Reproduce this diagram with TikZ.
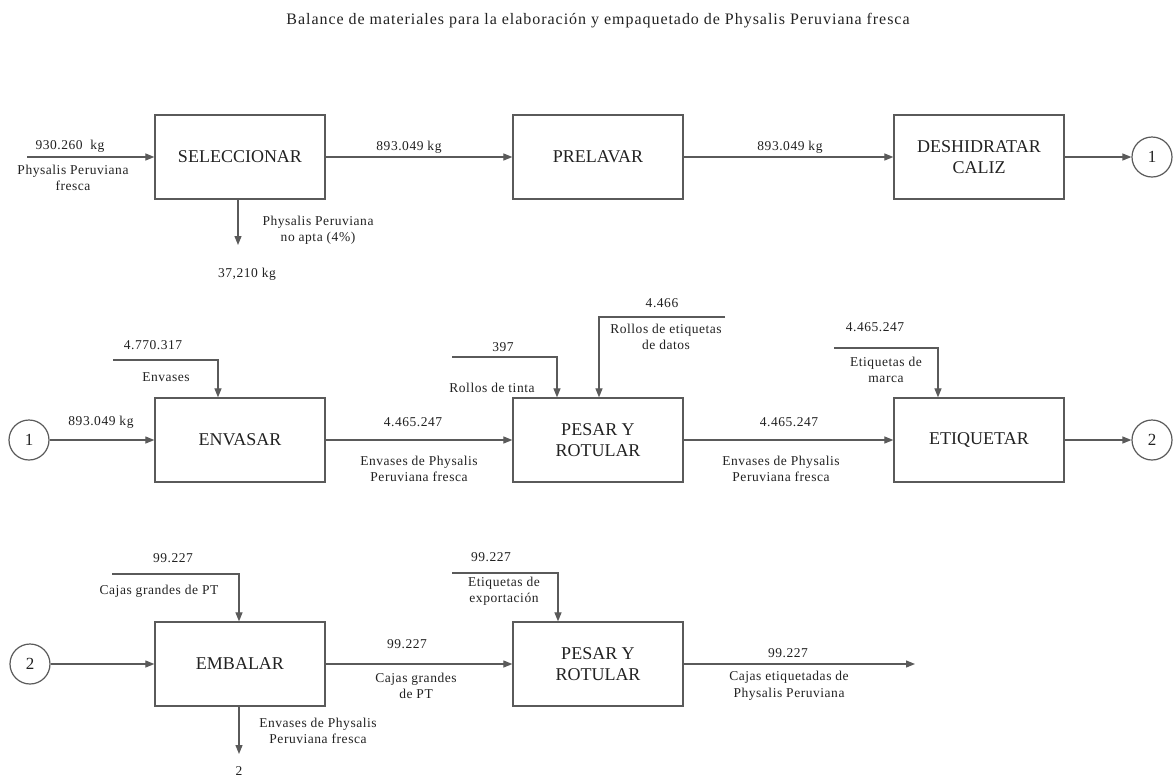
\documentclass[tikz,border=0pt]{standalone}
\usepackage{fontspec}
\setmainfont{Liberation Serif}
\newfontfamily\lblfont[LetterSpace=4]{Liberation Serif}
\newfontfamily\ttlfont[LetterSpace=6]{Liberation Serif}
\usetikzlibrary{arrows.meta}
\definecolor{ln}{HTML}{5A5A5A}
\definecolor{tx}{HTML}{222222}
\tikzset{
 proc/.style={draw=ln, line width=1.3pt, minimum width=170pt, minimum height=84pt, inner sep=0pt, align=center, font=\fontsize{18}{21}\selectfont, text=tx},
 conn/.style={draw=ln, line width=1.2pt},
 flow/.style={conn, -{Triangle[length=9pt,width=7pt]}},
 lbl/.style={font=\lblfont\fontsize{13.5}{16.5}\selectfont, align=center, text=tx, inner sep=0pt},
 ttl/.style={font=\ttlfont\fontsize{16}{18}\selectfont, text=tx, inner sep=0pt},
 cnum/.style={circle, draw=ln, line width=1.2pt, minimum size=40pt, inner sep=0pt, font=\fontsize{17}{19}\selectfont, text=tx},
}
\begin{document}
\begin{tikzpicture}[x=1pt,y=-1pt]
\useasboundingbox[fill=white] (0,0) rectangle (1173,780);
\node[ttl] (title) at (598,21) {Balance de materiales para la elaboración y empaquetado de Physalis Peruviana fresca};

% Row 1
\node[proc] (sel) at (240,157) {SELECCIONAR};
\node[proc] (prel) at (598,157) {PRELAVAR};
\node[proc] (desh) at (979,157) {DESHIDRATAR\\CALIZ};
\node[cnum] (c1a) at (1152,157) {1};
\coordinate (in1) at (27,157);
\coordinate (out1) at (238,245);
\draw[flow] (in1) -- (sel);
\draw[flow] (sel) -- (prel);
\draw[flow] (prel) -- (desh);
\draw[flow] (desh) -- (c1a);
\draw[flow] (sel.south -| out1) -- (out1);
\node[lbl] (l930) at (70,146) {930.260\ \ kg};
\node[lbl] (lpp) at (73,178) {Physalis Peruviana\\fresca};
\node[lbl] (l893a) at (409,147) {893.049 kg};
\node[lbl] (l893b) at (790,147) {893.049 kg};
\node[lbl] (lnoapta) at (318,230) {Physalis Peruviana\\no apta (4\%)};
\node[lbl] (l37) at (247,274) {37,210 kg};

% Row 2
\node[cnum] (c1b) at (29,440) {1};
\node[proc] (env) at (240,440) {ENVASAR};
\node[proc] (pes1) at (598,440) {PESAR Y\\ROTULAR};
\node[proc] (eti) at (979,440) {ETIQUETAR};
\node[cnum] (c2a) at (1152,440) {2};
\draw[flow] (c1b) -- (env);
\draw[flow] (env) -- (pes1);
\draw[flow] (pes1) -- (eti);
\draw[flow] (eti) -- (c2a);
\coordinate (envin) at (113,360);
\coordinate (envk) at (218,360);
\draw[flow] (envin) -- (envk) -- (env.north -| envk);
\coordinate (tinin) at (452,357);
\coordinate (tink) at (557,357);
\draw[flow] (tinin) -- (tink) -- (pes1.north -| tink);
\coordinate (datin) at (725,317);
\coordinate (datk) at (599,317);
\draw[flow] (datin) -- (datk) -- (pes1.north -| datk);
\coordinate (marin) at (834,348);
\coordinate (mark) at (938,348);
\draw[flow] (marin) -- (mark) -- (eti.north -| mark);
\node[lbl] (l4770) at (153,345) {4.770.317};
\node[lbl] (lenv) at (166,377) {Envases};
\node[lbl] (l397) at (503,347) {397};
\node[lbl] (ltinta) at (492,388) {Rollos de tinta};
\node[lbl] (l4466) at (662,303) {4.466};
\node[lbl] (ldatos) at (666,337) {Rollos de etiquetas\\de datos};
\node[lbl] (l4465m) at (875,327) {4.465.247};
\node[lbl] (lmarca) at (886,370) {Etiquetas de\\marca};
\node[lbl] (l893c) at (101,422) {893.049 kg};
\node[lbl] (l4465a) at (413,422) {4.465.247};
\node[lbl] (lenvpa) at (419,469) {Envases de Physalis\\Peruviana fresca};
\node[lbl] (l4465b) at (789,422) {4.465.247};
\node[lbl] (lenvpb) at (781,469) {Envases de Physalis\\Peruviana fresca};

% Row 3
\node[cnum] (c2b) at (30,664) {2};
\node[proc] (emb) at (240,664) {EMBALAR};
\node[proc] (pes2) at (598,664) {PESAR Y\\ROTULAR};
\coordinate (fin) at (915,664);
\draw[flow] (c2b) -- (emb);
\draw[flow] (emb) -- (pes2);
\draw[flow] (pes2) -- (fin);
\coordinate (cajin) at (112,574);
\coordinate (cajk) at (239,574);
\draw[flow] (cajin) -- (cajk) -- (emb.north -| cajk);
\coordinate (expin) at (452,573);
\coordinate (expk) at (558,573);
\draw[flow] (expin) -- (expk) -- (pes2.north -| expk);
\coordinate (out3) at (239,754);
\draw[flow] (emb.south -| out3) -- (out3);
\node[lbl] (l99a) at (173,558) {99.227};
\node[lbl] (lcajas) at (159,591) {Cajas grandes de PT};
\node[lbl] (l99b) at (491,557) {99.227};
\node[lbl] (lexp) at (504,591) {Etiquetas de\\exportación};
\node[lbl] (lenvout) at (318,731) {Envases de Physalis\\Peruviana fresca};
\node[lbl] (l2) at (239,771) {2};
\node[lbl] (l99c) at (407,644) {99.227};
\node[lbl] (lcgpt) at (416,686) {Cajas grandes\\de PT};
\node[lbl] (l99d) at (788,653) {99.227};
\node[lbl] (lcet) at (789,686) {Cajas etiquetadas de\\Physalis Peruviana};
\end{tikzpicture}
\end{document}
